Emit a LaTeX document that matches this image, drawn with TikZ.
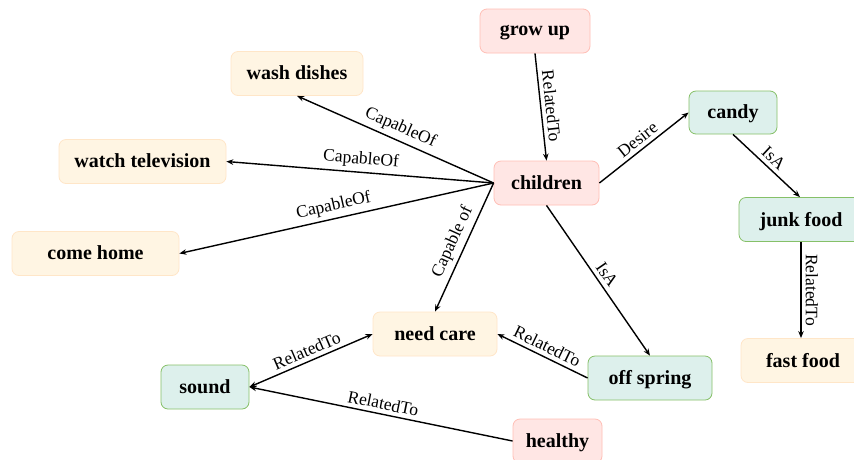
\documentclass[tikz,border=0pt]{standalone}
\usepackage{fontspec}
\setmainfont{Liberation Serif}
\usetikzlibrary{arrows.meta}
\definecolor{pinkfill}{HTML}{FFE6E4}
\definecolor{pinkline}{HTML}{FFBFB6}
\definecolor{yelfill}{HTML}{FFF5E3}
\definecolor{yelline}{HTML}{FFE6C8}
\definecolor{grnfill}{HTML}{DDF0EC}
\definecolor{grnline}{HTML}{86C068}
\tikzset{
  concept/.style={rounded corners=7pt, line width=0.8pt, minimum height=44pt,
    inner sep=0pt, text depth=1pt, font=\fontsize{20}{23}\selectfont\bfseries},
  pinkbox/.style={concept, draw=pinkline, fill=pinkfill},
  yelbox/.style={concept, draw=yelline, fill=yelfill},
  grnbox/.style={concept, draw=grnline, fill=grnfill},
  rel/.style={-{Stealth[length=7pt,width=5.5pt]}, line width=1.4pt},
  birel/.style={{Stealth[length=7pt,width=5.5pt]}-{Stealth[length=7pt,width=5.5pt]}, line width=1.4pt},
  lbl/.style={midway, sloped, above, inner sep=4pt, font=\fontsize{17.5}{20}\selectfont}
}
\begin{document}
\begin{tikzpicture}[x=1pt, y=-1pt]
\useasboundingbox (0,0) rectangle (854,459);
\clip (0,0) rectangle (854,459);
\fill[white] (0,0) rectangle (854,459);

% concept nodes
\node[pinkbox, minimum width=110pt] (grow) at (535,31) {grow up};
\node[pinkbox, minimum width=105pt] (child) at (546.5,183) {children};
\node[yelbox, minimum width=132pt] (wash) at (297,73.5) {wash dishes};
\node[yelbox, minimum width=167pt] (tv) at (142.5,161.5) {watch television};
\node[yelbox, minimum width=167pt] (home) at (95.5,253.5) {come home};
\node[yelbox, minimum width=124pt] (care) at (435,334) {need care};
\node[grnbox, minimum width=88pt] (sound) at (205,387) {sound};
\node[pinkbox, minimum width=89pt] (healthy) at (557.5,441) {healthy};
\node[grnbox, minimum width=124pt] (off) at (650,378) {off spring};
\node[grnbox, minimum width=88pt, minimum height=43pt] (candy) at (733,112.5) {candy};
\node[grnbox, minimum width=124pt] (junk) at (801,219.5) {junk food};
\node[yelbox, minimum width=124pt] (fast) at (803,360.5) {fast food};

% relations
\draw[rel] (grow.south) -- node[lbl] {RelatedTo} (child.north);
\draw[rel] (child.west) -- node[lbl] {CapableOf} (wash.south);
\draw[rel] (child.west) -- node[lbl] {CapableOf} (tv.east);
\draw[rel] (child.west) -- node[lbl] {CapableOf} (home.east);
\draw[rel] (child.west) -- node[lbl] {Capable of} (care.north);
\draw[rel] (child.east) -- node[lbl] {Desire} (candy.west);
\draw[rel] (child.south) -- node[lbl] {IsA} (off.north);
\draw[rel] (candy.south) -- node[lbl] {IsA} ([xshift=-1pt]junk.north);
\draw[rel] (junk.south) -- node[lbl] {RelatedTo} ([xshift=-2pt]fast.north);
\draw[rel] (off.west) -- node[lbl] {RelatedTo} (care.east);
\draw[birel] (sound.east) -- node[lbl] {RelatedTo} (care.west);
\draw[rel] (healthy.west) -- node[lbl] {RelatedTo} (sound.east);
\end{tikzpicture}
\end{document}
